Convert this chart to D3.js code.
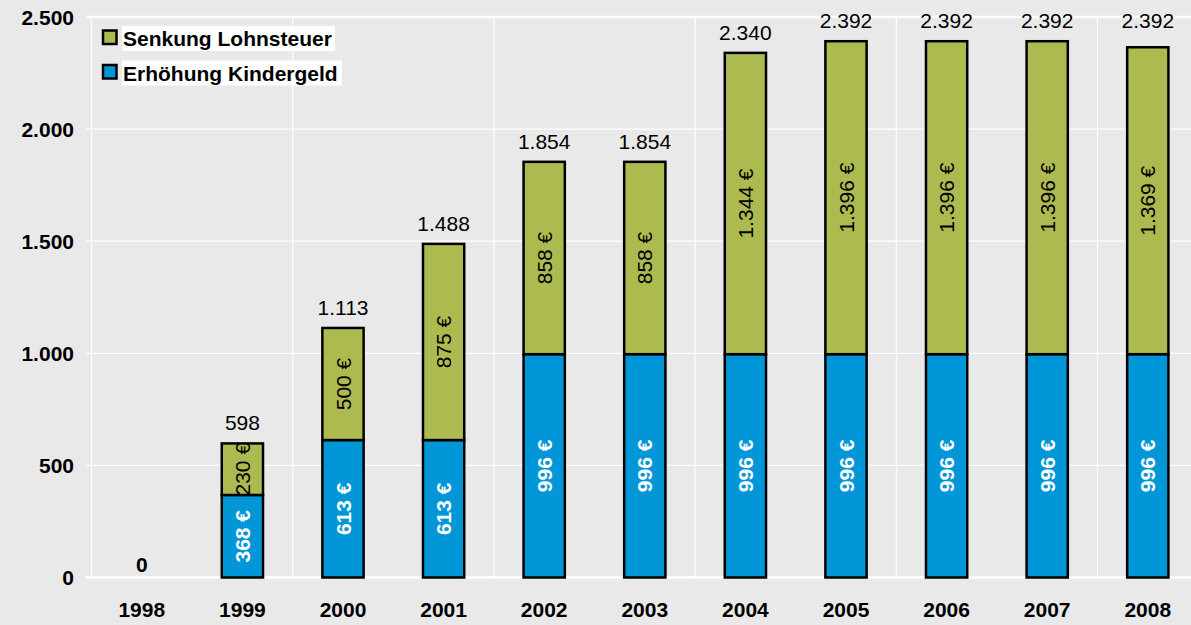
<!DOCTYPE html>
<html>
<head>
<meta charset="utf-8">
<script src="https://cdn.jsdelivr.net/npm/d3@7"></script>
<style>
  body { margin: 0; background: #e9e9e9; }
  svg { display: block; font-family: "Liberation Sans", Arial, sans-serif; }
</style>
</head>
<body>
<div id="chart"></div>
<script>
// data
var years = ["1998", "1999", "2000", "2001", "2002", "2003", "2004", "2005", "2006", "2007", "2008"];
var kindergeld = [0, 368, 613, 613, 996, 996, 996, 996, 996, 996, 996];
var lohnsteuer = [0, 230, 500, 875, 858, 858, 1344, 1396, 1396, 1396, 1369];
var totals = [0, 598, 1113, 1488, 1854, 1854, 2340, 2392, 2392, 2392, 2392];
var yTicks = [0, 500, 1000, 1500, 2000, 2500];
var seriesNames = ["Senkung Lohnsteuer", "Erhöhung Kindergeld"];

var W = 1191, H = 625,
    green = "#adba4f", blue = "#0096d7";

var de = d3.formatLocale({decimal: ",", thousands: ".", grouping: [3], currency: ["", " €"]});
var fmt = de.format(",d");

var data = years.map((y, i) => ({year: y, kindergeld: kindergeld[i], lohnsteuer: lohnsteuer[i]}));
var layers = d3.stack().keys(["kindergeld", "lohnsteuer"])(data);

var xScale = d3.scaleBand().domain(years).range([91.5, 91.5 + 11 * 100.6]).padding(0),
    yScale = d3.scaleLinear().domain([0, 2500]).range([577.5, 17]);
var barW = xScale.bandwidth() * 0.41;

var svg = d3.select("#chart").append("svg")
    .attr("width", W).attr("height", H);

svg.append("rect").attr("width", W).attr("height", H).attr("fill", "#e9e9e9");

// horizontal gridlines + ticks
svg.append("g").selectAll("line")
    .data(yTicks).enter().append("line")
    .attr("x1", 86).attr("x2", W)
    .attr("y1", d => yScale(d)).attr("y2", d => yScale(d))
    .attr("stroke", "#fff")
    .attr("stroke-width", d => (d === 0 || d === 2500) ? 2.5 : 1.2);

// vertical gridlines every two categories
var vx = [0, 2, 4, 6, 8, 10].map(i => xScale(years[i]));
svg.append("g").selectAll("line")
    .data(vx).enter().append("line")
    .attr("x1", d => d).attr("x2", d => d)
    .attr("y1", yScale(2500)).attr("y2", yScale(0))
    .attr("stroke", "#fff").attr("stroke-width", 1.2);

// y axis labels
svg.append("g").selectAll("text")
    .data(yTicks).enter().append("text")
    .attr("x", 74).attr("y", d => yScale(d))
    .attr("dy", "0.36em")
    .attr("text-anchor", "end")
    .attr("font-size", 21).attr("font-weight", "bold")
    .text(d => fmt(d));

// x axis labels
svg.append("g").selectAll("text")
    .data(years).enter().append("text")
    .attr("x", d => xScale(d) + xScale.bandwidth() / 2)
    .attr("y", 617)
    .attr("text-anchor", "middle")
    .attr("font-size", 21).attr("font-weight", "bold")
    .text(d => d);

// bars
var colors = [blue, green];
var layer = svg.selectAll(".layer")
    .data(layers).enter().append("g")
    .attr("class", "layer")
    .attr("fill", (d, i) => colors[i]);

layer.selectAll("rect")
    .data(d => d.filter(s => s[1] > s[0]))
    .enter().append("rect")
    .attr("x", d => xScale(d.data.year) + (xScale.bandwidth() - barW) / 2)
    .attr("y", d => yScale(d[1]))
    .attr("width", barW)
    .attr("height", d => yScale(d[0]) - yScale(d[1]))
    .attr("stroke", "#000").attr("stroke-width", 2.5);

// labels inside segments
layers.forEach((l, li) => {
    svg.append("g").selectAll("text")
        .data(l.filter(s => s[1] > s[0])).enter().append("text")
        .attr("transform", d => {
            var cx = xScale(d.data.year) + xScale.bandwidth() / 2,
                cy = yScale((d[0] + d[1]) / 2);
            return "translate(" + cx + "," + cy + ") rotate(-90)";
        })
        .attr("text-anchor", "middle")
        .attr("dy", "0.36em")
        .attr("font-size", 21)
        .attr("font-weight", li === 0 ? "bold" : "normal")
        .attr("fill", li === 0 ? "#fff" : "#000")
        .text(d => fmt(d[1] - d[0]) + " €");
});

// totals above bars
svg.append("g").selectAll("text")
    .data(totals).enter().append("text")
    .attr("x", (d, i) => xScale(years[i]) + xScale.bandwidth() / 2)
    .attr("y", d => yScale(d) - (d === 0 ? 6 : 13))
    .attr("text-anchor", "middle")
    .attr("font-size", 21)
    .attr("font-weight", d => d === 0 ? "bold" : "normal")
    .text(d => fmt(d));

// legend
var legend = svg.append("g").selectAll("g")
    .data(seriesNames).enter().append("g")
    .attr("transform", (d, i) => "translate(0," + (i * 34.5) + ")");

legend.append("rect")
    .attr("x", 122).attr("y", 26)
    .attr("width", (d, i) => i === 0 ? 213 : 220).attr("height", 25)
    .attr("fill", "#fff");

legend.append("rect")
    .attr("x", 103).attr("y", 30.5)
    .attr("width", 13.5).attr("height", 13.5)
    .attr("fill", (d, i) => i === 0 ? green : blue)
    .attr("stroke", "#000").attr("stroke-width", 2.5);

legend.append("text")
    .attr("x", 123).attr("y", 46)
    .attr("font-size", 21).attr("font-weight", "bold")
    .text(d => d);
</script>
</body>
</html>
